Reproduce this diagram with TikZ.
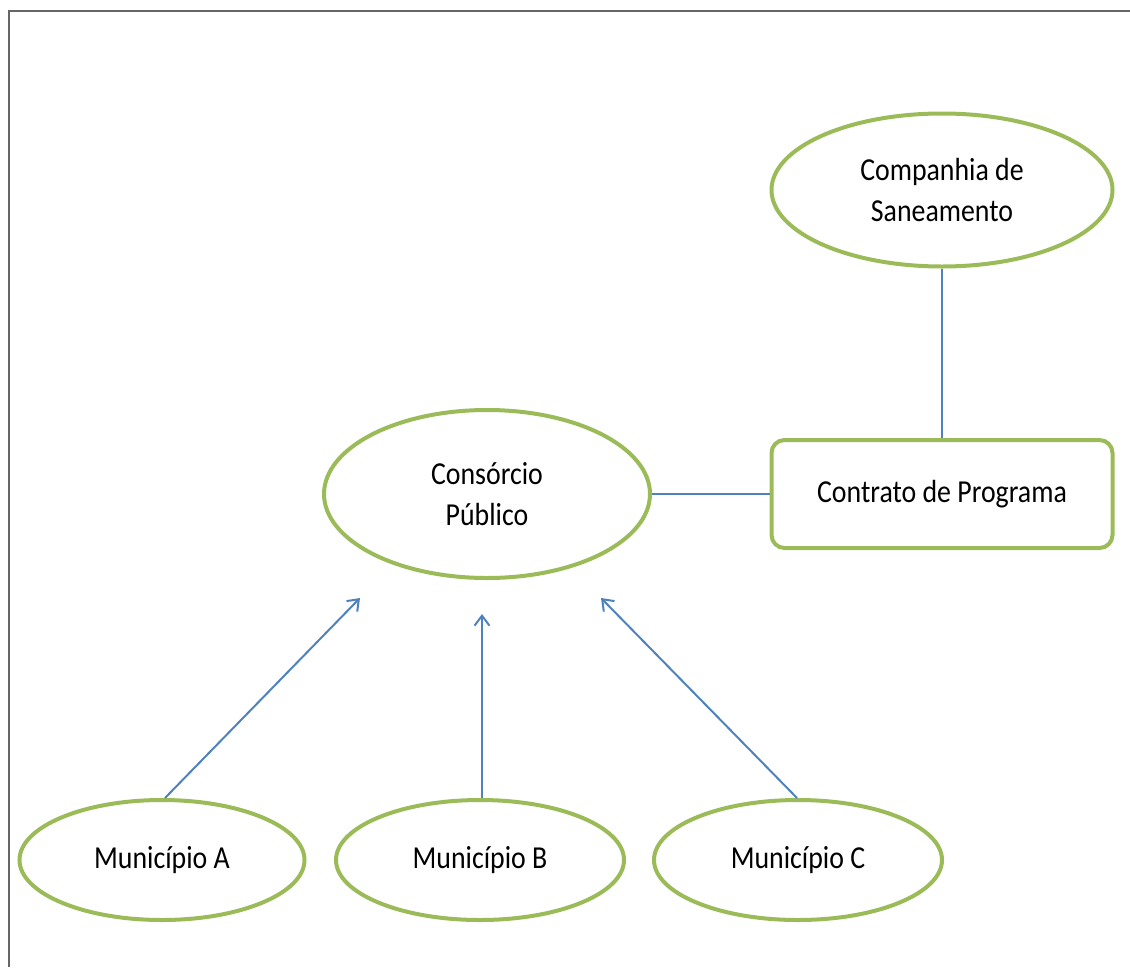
\documentclass[tikz,border=0pt]{standalone}
\usepackage{fontspec}
\setmainfont{Carlito}[FakeStretch=0.87]
\usetikzlibrary{shapes.geometric,arrows.meta}
\definecolor{ogreen}{RGB}{155,187,89}
\definecolor{oblue}{RGB}{79,129,189}
\tikzset{elli/.style={ellipse,draw=ogreen,line width=4pt,inner sep=0pt,align=center},
	caixa/.style={rectangle,rounded corners=13pt,draw=ogreen,line width=4pt,inner sep=0pt,align=center},
	liga/.style={oblue,line width=2pt}}
\begin{document}
\begin{tikzpicture}[x=1pt,y=-1pt,>={Straight Barb[length=10pt,width=15pt]},font=\fontsize{32}{41}\selectfont]
	\useasboundingbox (0,0) rectangle (1130,967);
	\draw[line width=2pt,black!60] (9,967) -- (9,11) -- (1130,11);
	% nodes
	\node[elli,minimum width=341pt,minimum height=153pt] (cia) at (942,190) {Companhia de\\Saneamento};
	\node[caixa,minimum width=341pt,minimum height=108pt] (contrato) at (942,494) {Contrato de Programa};
	\node[elli,minimum width=326pt,minimum height=168pt] (consorcio) at (487,494) {Consórcio\\Público};
	\node[elli,minimum width=285pt,minimum height=120pt] (munA) at (162,860) {Município A};
	\node[elli,minimum width=288pt,minimum height=120pt] (munB) at (480,860) {Município B};
	\node[elli,minimum width=288pt,minimum height=120pt] (munC) at (798,860) {Município C};
	\coordinate (pA) at (360,598);
	\coordinate (pB) at (482,614);
	\coordinate (pC) at (601,598);
	% ligacoes
	\draw[liga] (cia.south) -- (contrato.north);
	\draw[liga] (consorcio.east) -- (contrato.west);
	\draw[liga,->] (munA.north) ++(3,0) -- (pA);
	\draw[liga,->] (munB.north) ++(2,0) -- (pB);
	\draw[liga,->] (munC.north) ++(-1,0) -- (pC);
\end{tikzpicture}
\end{document}
